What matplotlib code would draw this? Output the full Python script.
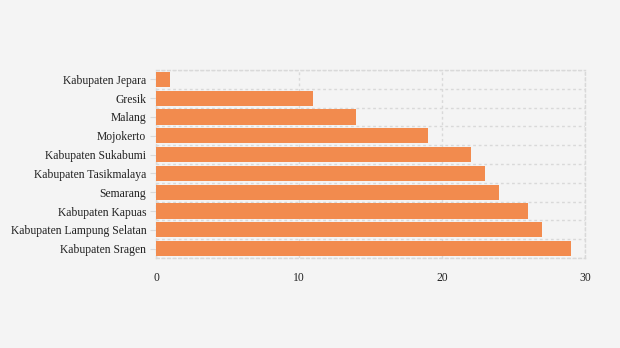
import matplotlib.pyplot as plt
import numpy as np

regions = [
    "Kabupaten Jepara",
    "Gresik",
    "Malang",
    "Mojokerto",
    "Kabupaten Sukabumi",
    "Kabupaten Tasikmalaya",
    "Semarang",
    "Kabupaten Kapuas",
    "Kabupaten Lampung Selatan",
    "Kabupaten Sragen",
]
counts = [1, 11, 14, 19, 22, 23, 24, 26, 27, 29]
x_ticks = [0, 10, 20, 30]

plt.rcParams["font.family"] = ["Liberation Serif", "DejaVu Serif"]

fig = plt.figure(figsize=(6.2, 3.48), dpi=100, facecolor="#f4f4f4")
ax = fig.add_axes([0.2516, 0.2586, 0.6919, 0.5403])
ax.set_facecolor("#f4f4f4")

pos = np.arange(len(regions))
ax.barh(pos, counts, height=0.8, color="#f28b4e", zorder=2)

ax.set_xlim(0, 30)
ax.set_ylim(len(regions) - 0.5, -0.5)
ax.set_xticks(x_ticks)
ax.set_yticks(pos)
ax.set_yticklabels(regions)
ax.set_yticks(np.arange(len(regions) + 1) - 0.5, minor=True)

grid_color = "#d9d9d9"
dash = (0, (2, 2))
ax.grid(axis="x", which="major", color=grid_color, linestyle=dash, linewidth=1.0, zorder=0)
ax.grid(axis="y", which="minor", color=grid_color, linestyle=dash, linewidth=1.0, zorder=0)
ax.grid(axis="y", which="major", visible=False)
for spine in ax.spines.values():
    spine.set_color(grid_color)
    spine.set_linestyle(dash)
    spine.set_linewidth(1.0)
    spine.set_zorder(1)

ax.tick_params(axis="y", which="major", length=4, color=grid_color,
               labelsize=8.4, labelcolor="#222222", pad=3)
ax.tick_params(axis="y", which="minor", length=0)
ax.tick_params(axis="x", length=0, labelsize=8.4, labelcolor="#222222", pad=10)

fig.savefig("out.png", dpi=100, facecolor=fig.get_facecolor())
